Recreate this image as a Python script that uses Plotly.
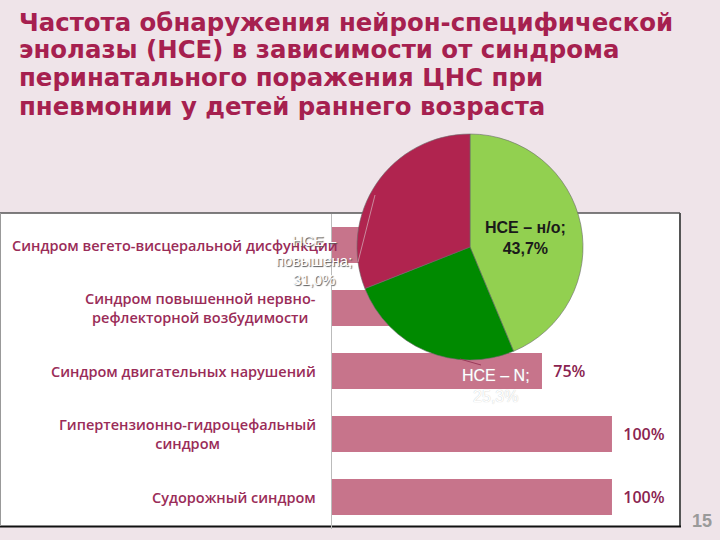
import plotly.graph_objects as go

# ---- data ----
title_lines = [
    "Частота обнаружения нейрон-специфической",
    "энолазы (НСЕ) в зависимости от синдрома",
    "перинатального поражения ЦНС при",
    "пневмонии у детей раннего возраста",
]
categories = [
    "Синдром вегето-висцеральной дисфункции",
    "Синдром повышенной нервно-<br>рефлекторной возбудимости",
    "Синдром двигательных нарушений",
    "Гипертензионно-гидроцефальный<br>синдром",
    "Судорожный синдром",
]
bar_values = [60, 50, 75, 100, 100]
label_visible = [False, False, True, True, True]  # first two labels are hidden by the pie
pie_labels = ["НСЕ – н/о", "НСЕ – N", "НСЕ – повышена"]
pie_values = [43.7, 25.3, 31.0]
page_number = "15"

BG = "#EFE4E9"
TITLE_C = "#A6204F"
LABEL_C = "#9A2C58"
BAR_C = "#C7748B"

W, H = 720, 540
def px(x):
    return x / W
def py(y):
    return 1 - y / H

fig = go.Figure()

fig.add_trace(go.Bar(
    x=bar_values, y=list(range(len(categories))), orientation="h",
    marker=dict(color=BAR_C, line=dict(width=0)),
    text=[f"\u00a0\u00a0{v}%" if s else "" for v, s in zip(bar_values, label_visible)],
    textposition="outside",
    textfont=dict(family="Open Sans", size=16, color="#8A2350", weight=600),
    cliponaxis=False, hoverinfo="skip", showlegend=False,
))

fig.add_trace(go.Pie(
    labels=pie_labels, values=pie_values, sort=False, direction="clockwise",
    rotation=0,
    marker=dict(colors=["#92D050", "#008A00", "#B0244F"],
                line=dict(color="#6a6a6a", width=0.6)),
    textinfo="none", hoverinfo="skip", showlegend=False,
    domain=dict(x=[px(357), px(583)], y=[py(360), py(134)]),
))

shapes = [
    dict(type="rect", xref="paper", yref="paper", x0=px(0), x1=px(680),
         y0=py(526), y1=py(213), fillcolor="white", line=dict(width=0), layer="below"),
    dict(type="line", xref="paper", yref="paper", x0=px(0), x1=px(680),
         y0=py(213), y1=py(213), line=dict(color="#555555", width=1.5), layer="below"),
    dict(type="line", xref="paper", yref="paper", x0=px(680), x1=px(680),
         y0=py(213), y1=py(527), line=dict(color="#555555", width=2), layer="below"),
    dict(type="line", xref="paper", yref="paper", x0=px(0), x1=px(681),
         y0=py(526.5), y1=py(526.5), line=dict(color="#111111", width=2), layer="below"),
    dict(type="line", xref="paper", yref="paper", x0=px(0.5), x1=px(0.5),
         y0=py(213), y1=py(526), line=dict(color="#999999", width=1), layer="below"),
    # faint leader lines of the pie labels
    dict(type="line", xref="paper", yref="paper", x0=px(358), x1=px(375),
         y0=py(262), y1=py(195), line=dict(color="#C9899C", width=1), layer="above"),
    dict(type="line", xref="paper", yref="paper", x0=px(460), x1=px(481),
         y0=py(359), y1=py(365), line=dict(color="#9A3A5A", width=1), layer="above"),
]

ann = []
for i, line in enumerate(title_lines):
    ann.append(dict(xref="paper", yref="paper", x=px(17), y=py(22 + 28 * i),
                    xanchor="left", yanchor="middle", showarrow=False, text=f"<b>{line}</b>",
                    font=dict(family="DejaVu Sans", size=24.4, color=TITLE_C)))
for i, c in enumerate(categories):
    if i == 0:
        ann.append(dict(xref="paper", yref="y", x=px(10), y=i, xanchor="left",
                        yanchor="middle", align="left", showarrow=False, text=c,
                        font=dict(family="Open Sans", size=14.5, color=LABEL_C, weight=600)))
    else:
        ann.append(dict(xref="paper", yref="y", x=px(318), y=i, xanchor="right",
                        yanchor="middle", align="center", showarrow=False, text=c,
                        font=dict(family="Open Sans", size=14.5, color=LABEL_C, weight=600)))

# pie labels
ann.append(dict(xref="paper", yref="paper", x=px(525), y=py(238), showarrow=False,
                xanchor="center", yanchor="middle",
                text=f"<b>{pie_labels[0]};<br>{pie_values[0]:.1f}%</b>".replace(".", ","),
                font=dict(family="Liberation Sans", size=16, color="#1A1A1A")))
ann.append(dict(xref="paper", yref="paper", x=px(496), y=py(386), showarrow=False,
                xanchor="center", yanchor="middle",
                text=f"{pie_labels[1]};<br>{pie_values[1]:.1f}%".replace(".", ","),
                font=dict(family="Liberation Sans", size=16, color="white",
                          shadow="0px 0px 1px #bbbbbb")))
ann.append(dict(xref="paper", yref="paper", x=px(314), y=py(260), showarrow=False,
                xanchor="center", yanchor="middle",
                text=("НСЕ –<br>повышена;<br>" + f"{pie_values[2]:.1f}%".replace(".", ",")),
                font=dict(family="Liberation Sans", size=15, color="white",
                          shadow="1px 1px 1px #555555")))
ann.append(dict(xref="paper", yref="paper", x=px(702), y=py(521), showarrow=False,
                xanchor="center", yanchor="middle",
                text=f"<b>{page_number}</b>",
                font=dict(family="Liberation Sans", size=18, color="#9A9A9A")))

fig.update_layout(
    width=W, height=H, margin=dict(l=0, r=0, t=0, b=0),
    paper_bgcolor=BG, plot_bgcolor="rgba(0,0,0,0)",
    bargap=0.43, shapes=shapes, annotations=ann,
    xaxis=dict(domain=[px(332), px(680)], range=[0, 124.3], showgrid=False,
               zeroline=False, showticklabels=False, showline=False, fixedrange=True),
    yaxis=dict(domain=[py(528.5), py(213.5)], range=[4.5, -0.5], showgrid=False,
               zeroline=False, showticklabels=False, showline=True, linecolor="#BBBBBB",
               linewidth=1, fixedrange=True),
)

fig.write_html("out.html")
